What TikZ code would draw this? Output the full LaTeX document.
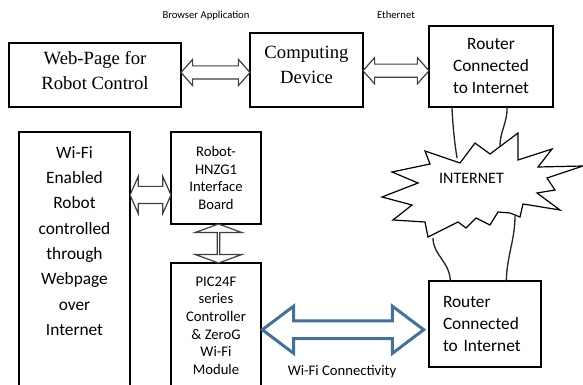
\documentclass[tikz,border=0pt]{standalone}
\usepackage{fontspec}
\setmainfont{Liberation Serif}
\setsansfont{Carlito}
\usetikzlibrary{shapes.arrows,calc}
\definecolor{wifiblue}{RGB}{65,113,156}
\tikzset{every picture/.style={line width=0.75pt}}
\tikzset{
  block/.style={draw, line width=1pt, inner sep=0pt, outer sep=0pt, align=center},
  blockarrow/.style={double arrow, draw=black!75, fill=white, line width=0.9pt, inner xsep=0pt, outer sep=0pt},
  wire/.style={draw=black!85, line width=1pt},
  smalllabel/.style={font=\sffamily\fontsize{8}{9}\selectfont, inner sep=0pt}
}
\begin{document}
\begin{tikzpicture}[x=0.75pt,y=0.75pt,yscale=-1,xscale=1]
\useasboundingbox (0,0) rectangle (583,385);
\clip (0,0) rectangle (583,385);

%Shape: Rectangle [web page]
\node[block, minimum width=129pt, minimum height=48pt, text depth=6.5pt, font=\fontsize{14}{18.75}\selectfont] (web) at (95,75) {Web-Page for\\Robot Control};
%Shape: Rectangle [computing device]
\node[block, minimum width=84.75pt, minimum height=55.5pt, text depth=7.5pt, font=\fontsize{14}{18.75}\selectfont] (comp) at (306.5,70) {Computing\\Device};
%Shape: Rectangle [router, top]
\node[block, minimum width=93pt, minimum height=60.75pt, font=\sffamily\fontsize{13}{16.5}\selectfont] (rtop) at (491,66.5) {Router\\Connected\\to Internet};

%Shape: Rectangle [robot]
\node[block, minimum width=83.25pt, minimum height=195pt] (robot) at (74.5,262) {};
\node[align=center, inner sep=0pt, font=\sffamily\fontsize{13}{19}\selectfont] (robottxt) at (74.5,241) {Wi-Fi\\Enabled\\Robot\\controlled\\through\\Webpage\\over\\Internet};
%Shape: Rectangle [interface board]
\node[block, minimum width=67.5pt, minimum height=69pt, font=\sffamily\fontsize{11}{13.2}\selectfont] (iface) at (216,178) {Robot-\\HNZG1\\Interface\\Board};
%Shape: Rectangle [controller]
\node[block, minimum width=67.5pt, minimum height=93.75pt, font=\sffamily\fontsize{11}{13.2}\selectfont] (pic) at (216,325.5) {PIC24F\\series\\Controller\\\&~ZeroG\\Wi-Fi\\Module};
%Shape: Rectangle [router, bottom]
\node[block, minimum width=84pt, minimum height=64.5pt, text width=63pt, inner xsep=10.5pt, align=left, font=\sffamily\fontsize{13}{16.5}\selectfont] (rbot) at (485,324) {Router\\Connected\\to Internet};

%Shape: Double Arrows
\node[blockarrow, inner ysep=4.5pt, minimum height=51.75pt, minimum width=18.75pt, double arrow head extend=4.9pt, double arrow tip angle=97] (a1) at ($(web.east)!0.5!(comp.west)$) {};
\node[blockarrow, inner ysep=4.5pt, minimum height=49.5pt, minimum width=18.75pt, double arrow head extend=4.9pt, double arrow tip angle=97] (a2) at ($(comp.east)!0.5!(rtop.west)+(0,2.5)$) {};
\node[blockarrow, inner ysep=6pt, minimum height=30.75pt, minimum width=27pt, double arrow head extend=7.5pt, double arrow tip angle=132] (a3) at ($(robot.east |- iface.west)!0.5!(iface.west)+(0,17)$) {};
\node[blockarrow, inner ysep=9.4pt, shape border rotate=90, minimum height=29.25pt, minimum width=35.25pt, double arrow head extend=8.25pt, double arrow tip angle=140] (a4) at ($(iface.south)!0.5!(pic.north)+(2.5,0)$) {};
\node[blockarrow, draw=wifiblue, line width=2.25pt, inner ysep=5.6pt, minimum height=121pt, minimum width=33pt, double arrow head extend=10.9pt, double arrow tip angle=74] (a5) at ($(pic.east)!0.5!(rbot.west)+(-2,5)$) {};

%Shape: Cloud [internet]
\coordinate (inUL) at (457,158);
\coordinate (inUR) at (500,147);
\coordinate (inLL) at (433,238);
\coordinate (inLR) at (515,216);
\draw[wire] ($(rtop.south west)!0.185!(rtop.south east)$) .. controls (453,130) and (455,145) .. (inUL);
\draw[wire] ($(rtop.south west)!0.63!(rtop.south east)$) .. controls (507,125) and (500,130) .. (inUR);
\draw[wire] (inLL) .. controls (433,255) and (450,262) .. ($(rbot.north west)!0.19!(rbot.north east)$);
\draw[wire] (inLR) .. controls (515,240) and (507,255) .. ($(rbot.north west)!0.69!(rbot.north east)$);
\draw[fill=white, line width=0.9pt] (425,151) -- (460,163) -- (475,143) -- (490,154) -- (518,133) -- (518,160) -- (552,149) -- (538,167) -- (583,166) -- (547,178) -- (555,190) -- (537,193) -- (560,210) -- (523,204) -- (520,217) -- (510,213) -- (498,212) -- (490,225) -- (476,218) -- (466,228) -- (458,222) -- (452,225) -- (428,237) -- (425,222) -- (393,220) -- (412,205) -- (382,197) -- (418,183) -- (392,172) -- (430,164) -- cycle;
\node[font=\sffamily\fontsize{12}{14}\selectfont, inner sep=0pt] (net) at (471.5,178) {INTERNET};

%Labels
\node[smalllabel] (browser) at (206,16) {Browser Application};
\node[smalllabel] (eth) at (396,15) {Ethernet};
\node[font=\sffamily\fontsize{11}{13}\selectfont, inner sep=0pt] (wifi) at (342,372) {Wi-Fi Connectivity};
\end{tikzpicture}
\end{document}
